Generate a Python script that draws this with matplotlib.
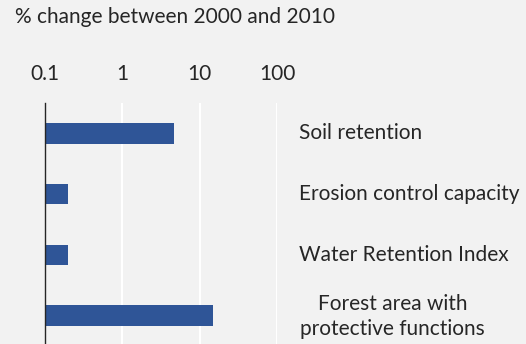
import matplotlib
matplotlib.use("Agg")
import matplotlib.pyplot as plt

categories = ["Soil retention", "Erosion control capacity", "Water Retention Index",
              "Forest area with\nprotective functions"]
values = [4.6, 0.2, 0.2, 15.0]
tick_values = [0.1, 1, 10, 100]
tick_labels = ["0.1", "1", "10", "100"]
title = "% change between 2000 and 2010"

bg = "#f2f2f2"
bar_color = "#2f5597"
text_color = "#262626"
font = "Lato"
fs = 15

W, H = 526, 344
fig = plt.figure(figsize=(W / 100, H / 100), dpi=100, facecolor=bg)
ax = fig.add_axes([45 / W, -2 / H, 232 / W, 243 / H], facecolor=bg)

ax.set_xscale("log")
ypos = list(range(len(categories)))
ax.barh(ypos, [v - tick_values[0] for v in values], left=tick_values[0],
        height=0.34, color=bar_color, zorder=3)
ax.set_xlim(tick_values[0], tick_values[-1])
ax.set_ylim(len(categories) - 0.5, -0.5)

ax.xaxis.tick_top()
ax.set_xticks(tick_values)
ax.set_xticklabels(tick_labels, fontsize=fs, color=text_color, family=font)
ax.xaxis.set_minor_locator(matplotlib.ticker.NullLocator())
ax.tick_params(axis="x", length=0, pad=14)
ax.set_yticks([])
ax.grid(axis="x", color="white", linewidth=1.5, zorder=1)

for s in ["top", "right", "bottom"]:
    ax.spines[s].set_visible(False)
ax.spines["left"].set_color("#262626")
ax.spines["left"].set_linewidth(1.0)
ax.spines["left"].set_zorder(4)

# category names to the right of the plot area
for y, name in zip(ypos, categories):
    if "\n" in name:
        ax.annotate(name, xy=(1, y), xycoords=("axes fraction", "data"),
                    xytext=(115.5, -1), textcoords="offset pixels",
                    ha="center", va="center", fontsize=fs, color=text_color,
                    family=font, linespacing=1.35, multialignment="center")
    else:
        ax.annotate(name, xy=(1, y), xycoords=("axes fraction", "data"),
                    xytext=(22, 0), textcoords="offset pixels",
                    ha="left", va="center", fontsize=fs, color=text_color,
                    family=font)

fig.text(15 / W, 1 - 17 / H, title, ha="left", va="center", fontsize=fs,
         color=text_color, family=font)

fig.savefig("out.png", dpi=100, facecolor=bg)
